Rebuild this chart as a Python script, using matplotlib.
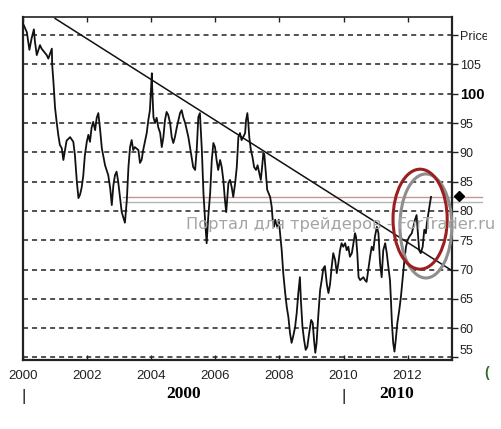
import numpy as np
import matplotlib
matplotlib.use('Agg')
import matplotlib.pyplot as plt
from matplotlib.patches import Ellipse
from matplotlib.transforms import Bbox, TransformedBbox, blended_transform_factory

plt.rcParams['font.family'] = ['Liberation Sans', 'DejaVu Sans']
plt.rcParams['lines.scale_dashes'] = False

# serie de precios (anio decimal, precio)
fechas = [
    2000.00, 2000.12, 2000.20, 2000.27, 2000.34, 2000.37, 2000.43, 2000.53, 2000.58, 2000.74,
    2000.79, 2000.90, 2000.91, 2000.95, 2001.00, 2001.05, 2001.10, 2001.15, 2001.21, 2001.26,
    2001.31, 2001.36, 2001.47, 2001.57, 2001.62, 2001.68, 2001.73, 2001.78, 2001.83, 2001.88,
    2001.93, 2001.99, 2002.04, 2002.09, 2002.14, 2002.19, 2002.25, 2002.30, 2002.35, 2002.40,
    2002.46, 2002.56, 2002.66, 2002.72, 2002.77, 2002.82, 2002.87, 2002.92, 2002.97, 2003.03,
    2003.08, 2003.18, 2003.24, 2003.29, 2003.34, 2003.39, 2003.44, 2003.49, 2003.60, 2003.65,
    2003.70, 2003.75, 2003.86, 2003.91, 2003.96, 2004.02, 2004.03, 2004.07, 2004.12, 2004.17,
    2004.22, 2004.28, 2004.33, 2004.38, 2004.43, 2004.48, 2004.53, 2004.59, 2004.64, 2004.69,
    2004.74, 2004.80, 2004.90, 2004.95, 2005.00, 2005.06, 2005.16, 2005.21, 2005.26, 2005.31,
    2005.37, 2005.42, 2005.47, 2005.52, 2005.58, 2005.63, 2005.68, 2005.73, 2005.78, 2005.84,
    2005.89, 2005.94, 2005.99, 2006.04, 2006.09, 2006.15, 2006.20, 2006.25, 2006.30, 2006.34,
    2006.41, 2006.46, 2006.51, 2006.56, 2006.62, 2006.67, 2006.72, 2006.77, 2006.82, 2006.87,
    2006.93, 2006.96, 2007.00, 2007.03, 2007.06, 2007.11, 2007.16, 2007.21, 2007.27, 2007.32,
    2007.37, 2007.42, 2007.46, 2007.50, 2007.53, 2007.57, 2007.62, 2007.71, 2007.76, 2007.79,
    2007.83, 2007.87, 2007.93, 2007.98, 2008.02, 2008.07, 2008.12, 2008.18, 2008.23, 2008.28,
    2008.33, 2008.38, 2008.43, 2008.49, 2008.54, 2008.59, 2008.64, 2008.67, 2008.72, 2008.77,
    2008.82, 2008.87, 2008.93, 2008.99, 2009.04, 2009.08, 2009.12, 2009.16, 2009.21, 2009.27,
    2009.32, 2009.37, 2009.42, 2009.48, 2009.53, 2009.58, 2009.63, 2009.68, 2009.74, 2009.79,
    2009.84, 2009.89, 2009.94, 2009.99, 2010.05, 2010.10, 2010.15, 2010.20, 2010.26, 2010.31,
    2010.36, 2010.39, 2010.43, 2010.47, 2010.52, 2010.62, 2010.67, 2010.72, 2010.77, 2010.83,
    2010.88, 2010.93, 2010.98, 2011.04, 2011.09, 2011.14, 2011.19, 2011.24, 2011.30, 2011.35,
    2011.40, 2011.45, 2011.48, 2011.51, 2011.55, 2011.59, 2011.63, 2011.68, 2011.74, 2011.79,
    2011.85, 2011.90, 2011.95, 2012.00, 2012.05, 2012.13, 2012.18, 2012.23, 2012.28, 2012.32,
    2012.36, 2012.41, 2012.47, 2012.52, 2012.57, 2012.60, 2012.65, 2012.70, 2012.73,
]
precio = [
    112.0, 110.5, 107.5, 109.5, 111.0, 109.0, 106.6, 108.3, 107.7, 106.6,
    106.0, 107.7, 105.0, 102.0, 97.6, 95.2, 93.0, 91.3, 90.7, 88.7,
    90.4, 92.0, 92.6, 91.8, 89.5, 85.0, 82.2, 82.8, 84.0, 86.0,
    89.5, 91.8, 93.0, 91.8, 94.2, 95.2, 93.8, 95.9, 96.7, 94.2,
    90.7, 87.8, 86.1, 83.9, 81.0, 84.4, 86.1, 86.7, 85.0, 82.2,
    79.8, 78.0, 81.9, 87.5, 90.9, 92.1, 90.4, 90.9, 90.4, 88.2,
    88.7, 90.4, 93.3, 95.5, 97.2, 103.5, 101.2, 96.0, 95.0, 95.9,
    94.3, 93.3, 90.9, 92.6, 95.5, 96.9, 96.4, 95.0, 92.6, 91.6,
    92.6, 94.3, 96.7, 97.2, 96.0, 95.0, 92.6, 90.9, 89.2, 87.5,
    87.0, 90.4, 96.0, 96.7, 90.4, 83.1, 78.5, 74.5, 79.0, 83.1,
    88.7, 91.6, 90.9, 88.7, 87.0, 88.7, 87.5, 85.3, 81.9, 79.8,
    84.8, 85.3, 84.1, 82.4, 84.8, 87.5, 92.6, 93.3, 92.1, 92.6,
    93.3, 95.5, 96.7, 95.0, 92.6, 90.4, 89.2, 87.5, 87.0, 87.8,
    86.5, 85.3, 87.5, 89.9, 89.6, 87.0, 83.6, 82.4, 80.7, 78.5,
    77.3, 78.5, 77.3, 78.5, 76.2, 73.4, 69.4, 66.0, 63.6, 61.9,
    59.2, 57.5, 58.6, 60.2, 62.6, 66.0, 68.7, 64.8, 60.2, 58.0,
    56.3, 56.8, 59.2, 61.4, 60.9, 58.0, 55.8, 57.5, 61.9, 66.5,
    68.2, 70.2, 70.6, 67.5, 66.0, 67.5, 70.4, 72.8, 71.6, 69.4,
    71.1, 73.3, 74.5, 73.9, 74.5, 73.3, 73.9, 72.2, 72.8, 74.5,
    76.2, 75.6, 72.8, 68.7, 68.2, 68.7, 68.2, 67.9, 69.9, 72.2,
    73.9, 73.3, 75.6, 77.3, 76.2, 71.1, 68.7, 73.3, 74.5, 72.8,
    70.4, 68.2, 64.8, 60.9, 57.5, 56.0, 58.0, 60.9, 63.1, 65.3,
    68.7, 71.6, 73.9, 75.0, 75.6, 76.2, 77.3, 78.5, 79.3, 76.2,
    73.3, 72.8, 73.9, 76.8, 76.2, 77.9, 79.7, 81.4, 82.4,
]

tendencia_x = [2001.0, 2013.39]
tendencia_y = [112.85, 69.8]

nivel_rojo = 82.44
nivel_gris = 81.59
niveles_x = [2003.12, 2014.32]
marcador = (2013.60, 82.56)

niveles_y = [55, 60, 65, 70, 75, 80, 85, 90, 95, 100, 105, 110]
etiquetas_y = ['55', '60', '65', '70', '75', '80', '85', '90', '95', '100', '105', 'Price']
anios = [2000, 2002, 2004, 2006, 2008, 2010, 2012]

fig = plt.figure(figsize=(5.02, 4.29), dpi=100)
ax = fig.add_axes([23 / 502, 1 - 360 / 429, 429 / 502, 343 / 429])

ax.set_xlim(2000, 2013.385)
ax.set_ylim(54.57, 113.1)

for y in niveles_y:
    ax.axhline(y, color='#222222', lw=1.1, linestyle=(0, (3.6, 2.9)), zorder=1)

ax.plot(niveles_x, [nivel_rojo, nivel_rojo], color='#c99590', lw=1, clip_on=False, zorder=2)
ax.plot(niveles_x, [nivel_gris, nivel_gris], color='#b4b4b4', lw=1, clip_on=False, zorder=2)

ax.plot(fechas, precio, color='#111111', lw=1.3, zorder=3)
ax.plot(tendencia_x, tendencia_y, color='#111111', lw=1.1, zorder=3)

ax.add_patch(Ellipse((2012.57, 77.44), 1.62, 17.75, fill=False, ec='#8e8e8e', lw=2.2, zorder=4, clip_on=False))
ax.add_patch(Ellipse((2012.39, 78.6), 1.69, 17.06, fill=False, ec='#9b1f1f', lw=2.2, zorder=5, clip_on=False))

ax.plot([marcador[0]], [marcador[1]], marker='D', ms=5.5, color='black', clip_on=False, zorder=6)

ax.yaxis.tick_right()
ax.set_yticks(niveles_y)
ax.set_yticklabels(etiquetas_y)
ax.tick_params(axis='y', direction='out', length=4, width=1, pad=1.5, labelsize=9, colors='#222222')
ax.set_xticks(anios)
ax.set_xticklabels([str(a) for a in anios])
ax.tick_params(axis='x', direction='in', top=True, bottom=True, length=3.5, width=1,
               pad=7, labelsize=9.5, colors='#222222')

clip = TransformedBbox(Bbox([[0, 0], [487 / 502, 1]]), fig.transFigure)
for lab in ax.get_yticklabels():
    if lab.get_text() == '100':
        lab.set_fontweight('bold')
        lab.set_fontsize(10.5)
        lab.set_color('black')
    if lab.get_text() == '55':
        lab.set_verticalalignment('bottom')
    lab.set_clip_on(True)
    lab.set_clip_box(clip)

for side in ['left', 'right', 'bottom']:
    ax.spines[side].set_linewidth(1.6)
ax.spines['top'].set_linewidth(1.2)
for s in ax.spines.values():
    s.set_color('#222222')

# segunda fila del eje x
tr = blended_transform_factory(ax.transData, fig.transFigure)
ax.text(2005.02, 1 - 394 / 429, '2000', transform=tr, ha='center', va='center',
        family='Liberation Serif', fontweight='bold', fontsize=12.5)
ax.text(2011.65, 1 - 394 / 429, '2010', transform=tr, ha='center', va='center',
        family='Liberation Serif', fontweight='bold', fontsize=12.5)
ax.text(2000.03, 1 - 397 / 429, '|', transform=tr, ha='center', va='center', fontsize=12, color='#222222')
ax.text(2010.0, 1 - 397 / 429, '|', transform=tr, ha='center', va='center', fontsize=12, color='#222222')

fig.text(186 / 502, 1 - 225 / 429, 'Портал для трейдеров - ForTrader.ru', ha='left', va='center',
         fontsize=11.7, color='#a4a4a4', family='DejaVu Sans', zorder=10)
fig.text(484 / 502, 1 - 373 / 429, '(', ha='left', va='center', fontsize=10, fontweight='bold',
         color='#2d6b2d')

fig.savefig('out.png', dpi=100)
